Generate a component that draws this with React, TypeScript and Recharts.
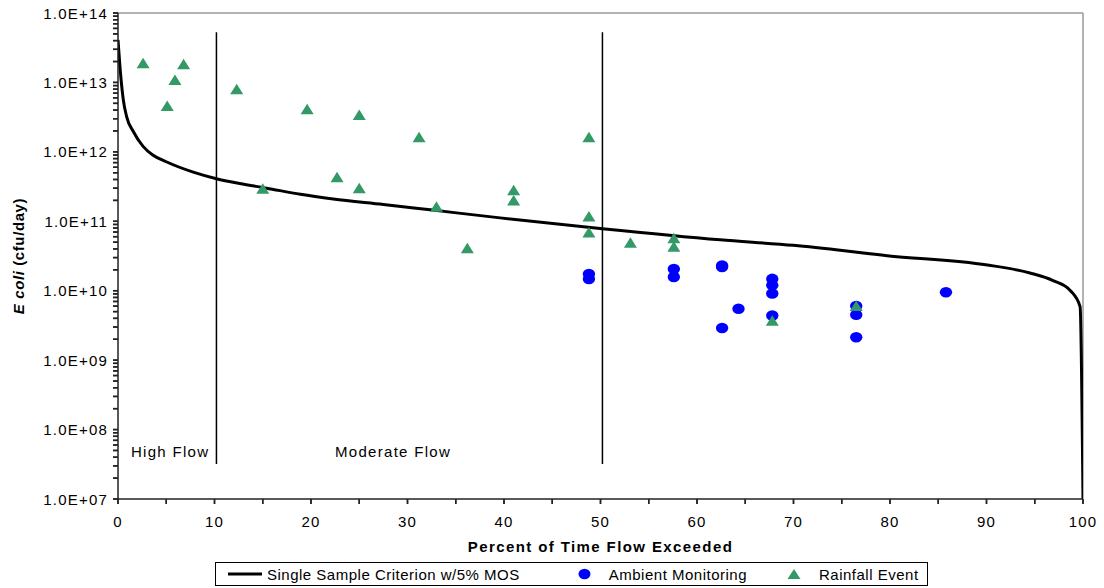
import React from "react";
import {
  ComposedChart,
  Line,
  Scatter,
  XAxis,
  YAxis,
  ReferenceLine,
  Label,
} from "recharts";

// Flow duration curve: Single Sample Criterion w/5% MOS
const curveX = [0, 0.2, 0.55, 0.9, 1.6, 2.6, 3.6, 5.0, 7.8, 10.2, 12.6, 15.4, 18.9, 22.3, 27.5, 32.6, 39.6, 50.2, 62.4, 70, 79.7, 90.1, 94.5, 96.9, 98.7, 99.7, 100];
const curveY = [4.1e13, 1.7e13, 5.6e12, 3.2e12, 1.95e12, 1.2e12, 9.0e11, 7.2e11, 5.1e11, 4.1e11, 3.5e11, 3.0e11, 2.45e11, 2.1e11, 1.75e11, 1.45e11, 1.12e11, 7.8e10, 5.4e10, 4.5e10, 3.2e10, 2.35e10, 1.8e10, 1.4e10, 1.0e10, 5.9e9, 1e7];

// Ambient Monitoring
const ambientX = [48.8, 48.8, 57.6, 57.6, 62.6, 62.6, 62.6, 64.3, 67.8, 67.8, 67.8, 67.8, 76.5, 76.5, 76.5, 85.8];
const ambientY = [1.74e10, 1.48e10, 2.05e10, 1.58e10, 2.3e10, 2.2e10, 2.9e9, 5.5e9, 1.48e10, 1.2e10, 9.1e9, 4.4e9, 6.0e9, 4.5e9, 2.14e9, 9.5e9];

// Rainfall Event
const rainX = [2.6, 6.8, 5.9, 5.1, 12.3, 19.6, 25.0, 31.2, 22.7, 25.0, 15.0, 33.0, 36.2, 48.8, 41.0, 41.0, 48.8, 48.8, 53.1, 57.6, 57.6, 76.5, 67.8];
const rainY = [1.89e13, 1.82e13, 1.08e13, 4.57e12, 8.0e12, 4.1e12, 3.4e12, 1.62e12, 4.3e11, 3.0e11, 2.95e11, 1.62e11, 4.1e10, 1.62e12, 2.8e11, 2.0e11, 1.17e11, 6.9e10, 4.9e10, 5.7e10, 4.3e10, 6.0e9, 3.7e9];

// Flow zone dividers and labels
const zoneLineX = [10.2, 50.2];
const zoneLineYRange = [3.2e7, 5.3e13];
const zoneLabels = ["High Flow", "Moderate Flow"];
const zoneLabelX = [5.4, 28.5];
const zoneLabelY = 4.9e7;

// Axis ticks
const xTicks = [0, 5, 10, 15, 20, 25, 30, 35, 40, 45, 50, 55, 60, 65, 70, 75, 80, 85, 90, 95, 100];
const yDomain = [1e7, 1e14];
const yDecades = [7, 8, 9, 10, 11, 12, 13];
const yMantissas = [1, 2, 3, 4, 5, 6, 7, 8, 9];

const seriesNames = ["Single Sample Criterion w/5% MOS", "Ambient Monitoring", "Rainfall Event"];

// The value axis is logarithmic: values are placed by their base-10 logarithm.
const lg = (v: number) => Math.log10(v);
const yTicks: number[] = [];
yDecades.forEach((d) => yMantissas.forEach((m) => yTicks.push(lg(m) + d)));
yTicks.push(lg(yDomain[1]));

const curveData = curveX.map((x, i) => ({ x, y: lg(curveY[i]) }));
const ambientData = ambientX.map((x, i) => ({ x, y: lg(ambientY[i]) }));
const rainData = rainX.map((x, i) => ({ x, y: lg(rainY[i]) }));

const FONT = "'Liberation Sans', Arial, sans-serif";
const GREEN = "#339966";
const BLUE = "#0000FF";
const AXIS = "#222";

const TICK_SIZE = 5;
const Y_TICK_MARGIN = 5;
const X_TICK_MARGIN = 12;

const isMajor = (l: number) => Math.abs(l - Math.round(l)) < 1e-9;

const YTick = (props: any) => {
  const { x, y, payload } = props;
  const ax = x + Y_TICK_MARGIN + TICK_SIZE;
  const mark = <line x1={ax - TICK_SIZE} y1={y} x2={ax} y2={y} stroke={AXIS} strokeWidth={1.5} />;
  if (!isMajor(payload.value)) return <g>{mark}</g>;
  const exp = Math.round(payload.value);
  const label = `1.0E+${exp < 10 ? "0" + exp : exp}`;
  return (
    <g>
      {mark}
      <text x={x} y={y} textAnchor="end" dominantBaseline="central" fontFamily={FONT} fontSize={15} letterSpacing={1.2} fill="#000">
        {label}
      </text>
    </g>
  );
};

const XTick = (props: any) => {
  const { x, y, payload } = props;
  const ay = y - X_TICK_MARGIN - TICK_SIZE;
  const mark = <line x1={x} y1={ay} x2={x} y2={ay + TICK_SIZE} stroke={AXIS} strokeWidth={1.5} />;
  if (payload.value % 10 !== 0) return <g>{mark}</g>;
  return (
    <g>
      {mark}
      <text x={x} y={y} textAnchor="middle" dy="0.72em" fontFamily={FONT} fontSize={15} letterSpacing={1.2} fill="#000">
        {payload.value}
      </text>
    </g>
  );
};

const Circle = (props: any) => {
  const { cx, cy } = props;
  if (cx == null || cy == null) return null;
  return <ellipse cx={cx} cy={cy} rx={6.2} ry={5.3} fill={BLUE} />;
};

const Triangle = (props: any) => {
  const { cx, cy } = props;
  if (cx == null || cy == null) return null;
  return <path d={`M${cx},${cy - 5.5} L${cx + 6.5},${cy + 5} L${cx - 6.5},${cy + 5} Z`} fill={GREEN} />;
};

const YTitle = (props: any) => {
  const vb = props.viewBox || {};
  const cx = (vb.x ?? 0) + 18;
  const cy = (vb.y ?? 0) + (vb.height ?? 0) / 2;
  return (
    <text x={cx} y={cy} transform={`rotate(-90 ${cx} ${cy})`} textAnchor="middle" dominantBaseline="central" fontFamily={FONT} fontSize={15} fontWeight="bold" letterSpacing={0.6} fill="#000">
      <tspan fontStyle="italic">E coli</tspan>
      <tspan> (cfu/day)</tspan>
    </text>
  );
};

const ZoneText = (text: string) => (props: any) => {
  const vb = props.viewBox || {};
  const cx = vb.cx ?? vb.x ?? 0;
  const cy = vb.cy ?? vb.y ?? 0;
  return (
    <text x={cx} y={cy} textAnchor="middle" dominantBaseline="central" fontFamily={FONT} fontSize={15} letterSpacing={1.3} fill="#000">
      {text}
    </text>
  );
};

const LegendBox = () => (
  <div
    style={{
      position: "absolute",
      left: 215,
      top: 562,
      width: 713,
      height: 24,
      boxSizing: "border-box",
      border: "1px solid #000",
      display: "flex",
      alignItems: "center",
      fontFamily: FONT,
      fontSize: 15,
      letterSpacing: 0.5,
      color: "#000",
      whiteSpace: "nowrap",
      background: "#fff",
    }}
  >
    <svg width={34} height={6} style={{ marginLeft: 12 }}>
      <line x1={0} y1={3} x2={34} y2={3} stroke="#000" strokeWidth={3} />
    </svg>
    <span style={{ marginLeft: 5 }}>{seriesNames[0]}</span>
    <svg width={13} height={12} style={{ marginLeft: 58 }}>
      <ellipse cx={6.5} cy={6} rx={6} ry={5.2} fill={BLUE} />
    </svg>
    <span style={{ marginLeft: 18 }}>{seriesNames[1]}</span>
    <svg width={14} height={12} style={{ marginLeft: 40 }}>
      <path d="M7,1 L13.5,11 L0.5,11 Z" fill={GREEN} />
    </svg>
    <span style={{ marginLeft: 18 }}>{seriesNames[2]}</span>
  </div>
);

export default function App() {
  return (
    <div style={{ position: "absolute", left: 0, top: 0, width: 1104, height: 588, background: "#fff" }}>
      <ComposedChart width={1104} height={588} margin={{ top: 13, right: 21, bottom: 33, left: 0 }}>
        <XAxis
          type="number"
          dataKey="x"
          domain={[0, 100]}
          ticks={xTicks}
          interval={0}
          tick={<XTick />}
          tickSize={TICK_SIZE}
          tickMargin={X_TICK_MARGIN}
          height={56}
          axisLine={{ stroke: AXIS, strokeWidth: 1.5 }}
          tickLine={{ stroke: AXIS, strokeWidth: 1.5 }}
          allowDataOverflow
        >
          <Label
            value="Percent of Time Flow Exceeded"
            position="insideBottom"
            offset={3}
            style={{ fontFamily: FONT, fontSize: 15, fontWeight: "bold", letterSpacing: 1.4, fill: "#000" }}
          />
        </XAxis>
        <YAxis
          type="number"
          dataKey="y"
          domain={[lg(yDomain[0]), lg(yDomain[1])]}
          ticks={yTicks}
          interval={0}
          tick={<YTick />}
          tickSize={TICK_SIZE}
          tickMargin={Y_TICK_MARGIN}
          width={118}
          axisLine={{ stroke: AXIS, strokeWidth: 1.5 }}
          tickLine={{ stroke: AXIS, strokeWidth: 1.5 }}
          allowDataOverflow
        >
          <Label content={<YTitle />} />
        </YAxis>
        <ReferenceLine y={lg(yDomain[1])} stroke="#999" strokeWidth={1.5} />
        <ReferenceLine x={100} stroke="#999" strokeWidth={1.5} />
        {zoneLineX.map((xv, i) => (
          <ReferenceLine
            key={"zl" + i}
            segment={[
              { x: xv, y: lg(zoneLineYRange[0]) },
              { x: xv, y: lg(zoneLineYRange[1]) },
            ]}
            stroke="#000"
            strokeWidth={1.5}
          />
        ))}
        <Line
          data={curveData}
          dataKey="y"
          type="monotoneX"
          stroke="#000"
          strokeWidth={3}
          dot={false}
          activeDot={false}
          isAnimationActive={false}
          name={seriesNames[0]}
        />
        <Scatter data={ambientData} dataKey="y" shape={<Circle />} isAnimationActive={false} name={seriesNames[1]} />
        <Scatter data={rainData} dataKey="y" shape={<Triangle />} isAnimationActive={false} name={seriesNames[2]} />
        {zoneLabels.map((t, i) => (
          <ReferenceLine
            key={"lab" + i}
            segment={[
              { x: zoneLabelX[i], y: lg(zoneLabelY) },
              { x: zoneLabelX[i], y: lg(zoneLabelY) },
            ]}
            stroke="none"
            label={ZoneText(t)}
          />
        ))}
      </ComposedChart>
      <LegendBox />
    </div>
  );
}
